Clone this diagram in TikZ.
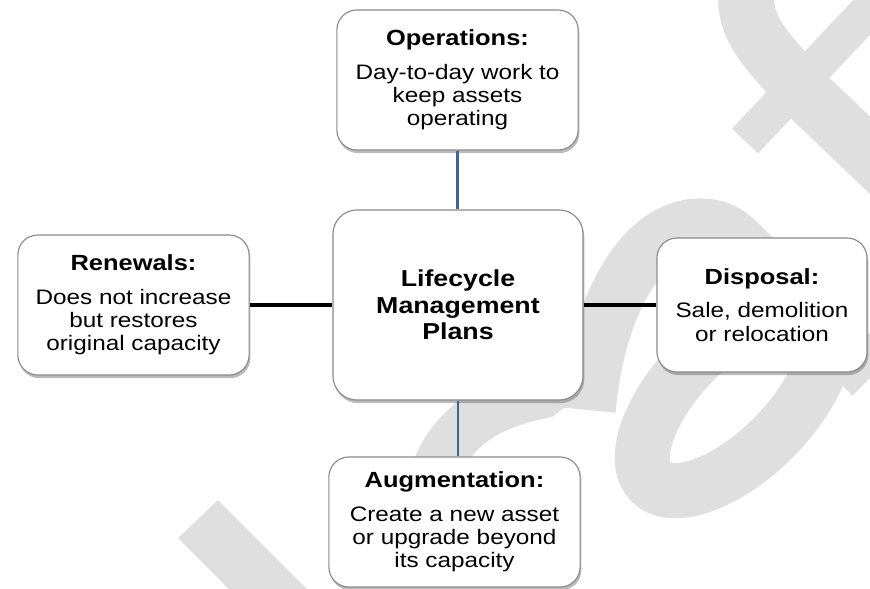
\documentclass[tikz,border=0pt]{standalone}
\usepackage{fontspec}
\setmainfont{Liberation Sans}[FakeStretch=1.16]
\usetikzlibrary{shadows}
\definecolor{wmgray}{RGB}{223,223,223}
\definecolor{linkblue}{RGB}{66,101,140}
\definecolor{boxline}{RGB}{138,138,138}
\newcommand{\hd}[1]{{\fontsize{15.6}{16.6}\selectfont\bfseries #1}\\[7pt]}
\tikzset{
	box/.style={draw=boxline, line width=.8pt, fill=white, rounded corners=.5cm,
		inner sep=0pt, align=center, font=\fontsize{14.9}{16.6}\selectfont,
		drop shadow={shadow xshift=.9pt, shadow yshift=-2.2pt, fill=black!60, opacity=.45}},
	wm/.style={wmgray},
	vlink/.style={linkblue, line width=1.7pt},
	hlink/.style={black, line width=2.5pt},
}

\begin{document}
\begin{tikzpicture}[x=.025cm,y=-.025cm]
\useasboundingbox (0,0) rectangle (870,588);
% draft letters behind the chart
\begin{scope}
\clip (0,0) rectangle (870,588);
\fill[wm] (178,538) -- (218,500) -- (320,602) -- (242,602) -- cycle;
\fill[wm] (415,480) -- (415,457) .. controls (440,395) and (520,350) .. (598,382) -- (552,417) .. controls (510,425) and (472,440) .. (460,480) -- cycle;
\draw[wm, line width=1.38cm] (588,410) .. controls (598,300) and (645,226) .. (700,226) .. controls (725,226) and (735,239) .. (748,252) -- (872,376);
\draw[wm, line width=1.38cm, rotate around={45:(734,399)}] (734,399) ellipse [x radius=2.93cm, y radius=1.38cm];
\draw[wm, line width=1.4cm] (744,-15) -- (746,0) .. controls (748,30) and (760,45) .. (811,99) -- (920,203);
\draw[wm, line width=.9cm] (745,141) -- (880,-2);
\end{scope}

\node[box, minimum width=6.03cm, minimum height=3.5cm] at (457.5,80) (ops) {\hd{Operations:}Day-to-day work to\\keep assets\\operating};
\node[box, minimum width=6.25cm, minimum height=4.75cm, rounded corners=.6cm, font=\bfseries\fontsize{16.4}{19}\selectfont] at (458,305) (lmp) {Lifecycle\\Management\\Plans};
\node[box, minimum width=5.78cm, minimum height=3.5cm] at (133.5,305) (ren) {\hd{Renewals:}Does not increase\\but restores\\original capacity};
\node[box, minimum width=5.25cm, minimum height=3.35cm] at (762,305) (dis) {\hd{Disposal:}Sale, demolition\\or relocation};
\node[box, minimum width=6.28cm, minimum height=3.25cm] at (454.5,522) (aug) {\hd{Augmentation:}Create a new asset\\or upgrade beyond\\its capacity};

\draw[vlink] (ops.south) -- (ops.south |- lmp.north);
\draw[vlink] (lmp.south) -- (lmp.south |- aug.north);
\draw[hlink] (ren.east) -- (lmp.west);
\draw[hlink] (lmp.east) -- (dis.west);
\end{tikzpicture}
\end{document}
